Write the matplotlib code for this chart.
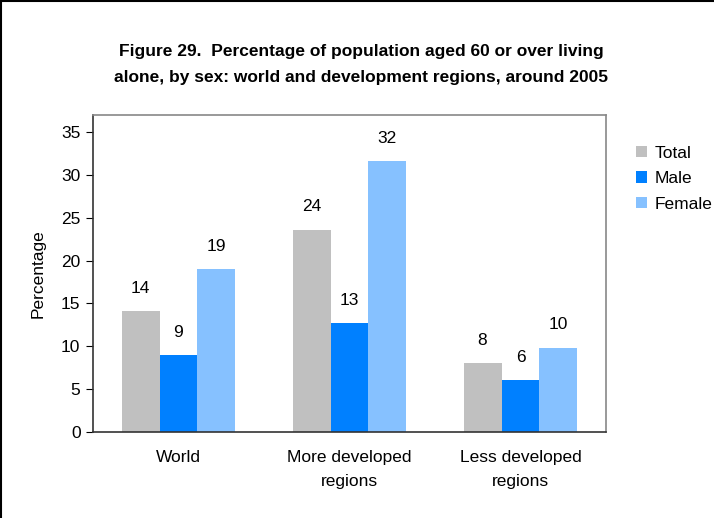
import matplotlib
matplotlib.use("Agg")
import matplotlib.pyplot as plt
import numpy as np
from matplotlib.lines import Line2D

# Data
regions = ["World", "More developed\nregions", "Less developed\nregions"]
series_names = ["Total", "Male", "Female"]
total = [14.1, 23.6, 8.0]
male = [8.97, 12.7, 6.0]
female = [19.0, 31.6, 9.8]
series_colors = ["#C0C0C0", "#0080FF", "#86C1FF"]
yticks = [0, 5, 10, 15, 20, 25, 30, 35]

plt.rcParams["font.family"] = ["Liberation Sans", "DejaVu Sans"]

fig = plt.figure(figsize=(7.14, 5.18), dpi=100)
ax = fig.add_axes([93 / 714, 1 - 431.7 / 518, (606 - 93) / 714, (431.7 - 115) / 518])

# Frame lines along the top and left edges of the figure
fig.lines.append(Line2D([0, 1], [0.998, 0.998], transform=fig.transFigure,
                        color="black", linewidth=1.5))
fig.lines.append(Line2D([0.002, 0.002], [0, 1], transform=fig.transFigure,
                        color="black", linewidth=1.5))

x = np.arange(len(regions))
width = 0.222
values = [total, male, female]
for i, (name, vals, col) in enumerate(zip(series_names, values, series_colors)):
    pos = x + (i - 1) * width
    ax.bar(pos, vals, width=width, color=col, label=name, linewidth=0)
    for xp, v in zip(pos, vals):
        ax.annotate(f"{round(v):d}", (xp, v), xytext=(0, 16.5), textcoords="offset points",
                    ha="center", va="center", fontsize=12.5)

ax.set_xlim(-0.5, 2.5)
ax.set_ylim(0, 37)
ax.set_yticks(yticks)
ax.set_xticks(x)
ax.set_xticklabels(regions, fontsize=12.5, linespacing=1.75)
ax.tick_params(axis="x", length=0, pad=13.5)
ax.tick_params(axis="y", direction="out", length=5, labelsize=12.5, pad=4)
ax.set_ylabel("Percentage", fontsize=12.5, labelpad=11)

for s in ["top", "right"]:
    ax.spines[s].set_color("#888888")
    ax.spines[s].set_linewidth(1.2)
for s in ["left", "bottom"]:
    ax.spines[s].set_color("#333333")
    ax.spines[s].set_linewidth(1.2)

fig.text(0.506, 1 - 64.5 / 518, "Figure 29.  Percentage of population aged 60 or over living\n"
         "alone, by sex: world and development regions, around 2005",
         ha="center", va="center", fontsize=12.5, fontweight="bold", linespacing=1.85)

fig.legend(loc="upper left", bbox_to_anchor=(627 / 714, 1 - 137 / 518), frameon=False,
           fontsize=12.5, handlelength=0.65, handleheight=0.65, handletextpad=0.45,
           labelspacing=0.6, borderpad=0)

fig.savefig("out.png", dpi=100)
